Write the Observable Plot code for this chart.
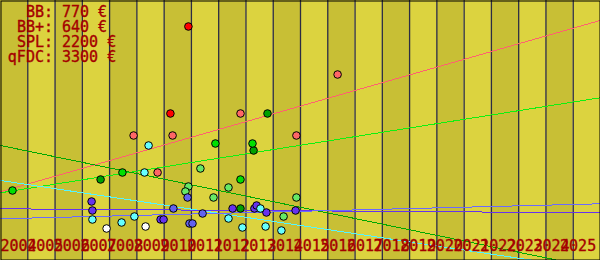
<!DOCTYPE html>
<html><head><meta charset="utf-8">
<script src="https://cdn.jsdelivr.net/npm/d3@7"></script>
<script src="https://cdn.jsdelivr.net/npm/@observablehq/plot@0.6"></script>
<style>html,body{margin:0;padding:0;background:#fff}svg{display:block}</style>
</head><body><div id="chart"></div>
<script>
// ---- data ----
const years = d3.range(2004, 2026);
const legendNames = ["BB", "BB+", "SPL", "qFDC"];
const legendPrices = [770, 640, 2200, 3300];

// points: [year, value]
const redPts = [[2010.89, 234], [2010.23, 147]];
const salmonPts = [[2008.88, 125], [2010.31, 125], [2009.76, 88], [2012.80, 147], [2014.85, 125], [2016.36, 186]];
const darkGreenPts = [[2013.79, 147], [2007.67, 81], [2013.28, 110], [2012.80, 52]];
const limePts = [[2004.44, 70], [2008.47, 88], [2011.88, 117], [2013.24, 117], [2012.80, 81]];
const lightGreenPts = [[2010.89, 74], [2010.78, 69], [2011.33, 92], [2012.36, 73], [2011.81, 63], [2014.85, 63], [2014.38, 44]];
const bluePts = [[2010.34, 52], [2010.86, 63], [2011.41, 47], [2010.93, 37], [2011.04, 37]];
const purplePts = [[2007.34, 59], [2007.37, 50], [2009.87, 41], [2009.98, 41], [2012.51, 52], [2013.31, 52], [2013.39, 55], [2013.75, 48], [2014.82, 50]];
const cyanPts = [[2009.43, 115], [2009.28, 88], [2007.37, 41], [2008.44, 38], [2008.91, 44], [2013.53, 52], [2012.36, 42], [2012.87, 33], [2013.72, 34], [2014.30, 30]];
const whitePts = [[2007.89, 32], [2009.32, 34]];

// trend lines: [year, value] endpoints
const salmonTrend = [[2004, 68.7], [2026, 240.1]];
const limeTrend = [[2004, 67.7], [2026, 162.8]];
const darkGreenTrend = [[2004, 115], [2026, -8.6]];
const cyanTrend = [[2004, 80], [2026, -10]];
const purpleTrend = [[2004, 51.7], [2026, 47.7]];
const blueTrend = [[2004, 41.7], [2026, 56.7]];

// ---- build ----
const groups = ["s1", "s2", "s3", "s4", "s5", "s6", "s7", "s8", "s9"];
const groupColors = ["#ff0000", "#ff6666", "#00a000", "#00e000", "#66e866", "#6262f0", "#6633ee", "#66ffff", "#ffffff"];
const seriesPts = [redPts, salmonPts, darkGreenPts, limePts, lightGreenPts, bluePts, purplePts, cyanPts, whitePts];
const dots = seriesPts.flatMap((pts, i) => pts.map(([year, value]) => ({year, value, group: groups[i]})));

const toRows = (arr) => arr.map(([year, value]) => ({year, value}));
const labelColor = "#a40000";
const font = "DejaVu Sans Mono";
const textStyle = {fontSize: 15, fontFamily: font, fill: labelColor, stroke: labelColor, strokeWidth: 0.35};

const trendLine = (arr, color) => Plot.line(toRows(arr), {x: "year", y: "value", stroke: color, strokeWidth: 1, shapeRendering: "crispEdges", clip: true});

const chart = Plot.plot({
  width: 600,
  height: 260,
  margin: 0,
  x: {domain: [2004, 2026], axis: null},
  y: {domain: [0, 260], axis: null},
  color: {type: "ordinal", domain: groups, range: groupColors},
  style: {background: "transparent", fontFamily: font, overflow: "hidden"},
  marks: [
    Plot.rect(years, {x1: d => d, x2: d => d + 1, fill: d => (d - 2004) % 2 === 0 ? "#c8bf35" : "#dcd33f"}),
    Plot.ruleX(years.slice(1), {x: d => d, stroke: "#2c2c44", strokeWidth: 1.3}),
    trendLine(salmonTrend, "#ff6070"),
    trendLine(limeTrend, "#10f010"),
    trendLine(darkGreenTrend, "#00a800"),
    trendLine(cyanTrend, "#55f5ff"),
    trendLine(purpleTrend, "#6633ee"),
    trendLine(blueTrend, "#6a6aff"),
    Plot.dot(dots, {x: "year", y: "value", fill: "group", stroke: "black", strokeWidth: 1, r: 3.8}),
    Plot.text(years, {x: d => 2004 + (d - 2004) * 0.977, text: d => String(d), frameAnchor: "bottom", lineAnchor: "bottom", dy: -10, textAnchor: "start", ...textStyle}),
    Plot.text([legendNames.map(n => n + ":").join("\n")], {frameAnchor: "top-left", dx: 52.5, dy: 6, textAnchor: "end", lineAnchor: "top", lineHeight: 1, ...textStyle}),
    Plot.text([legendPrices.map(p => p + " €").join("\n")], {frameAnchor: "top-left", dx: 61.5, dy: 6, textAnchor: "start", lineAnchor: "top", lineHeight: 1, ...textStyle}),
    Plot.frame({stroke: "black", inset: 0.5, strokeWidth: 1})
  ]
});
document.getElementById("chart").appendChild(chart);
</script>
</body></html>
